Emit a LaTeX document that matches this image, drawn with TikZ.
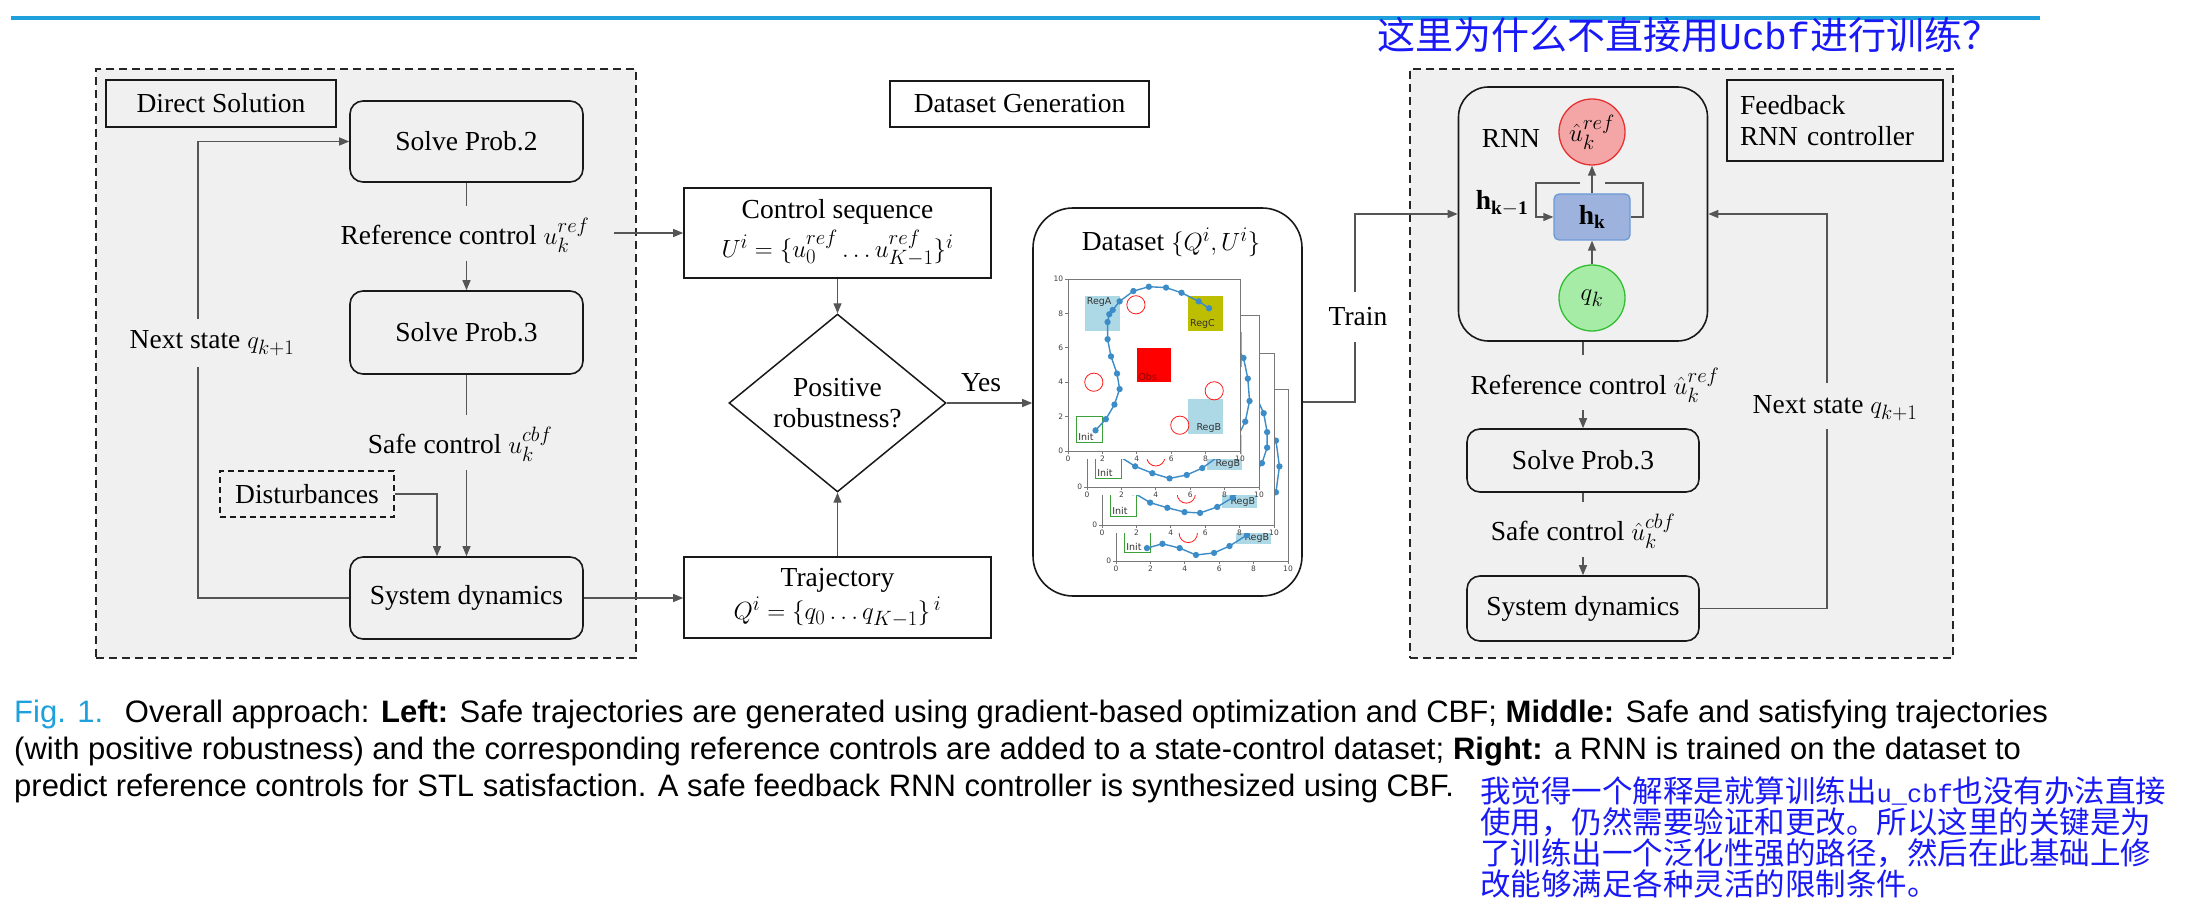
\documentclass[tikz,border=0pt]{standalone}
\usepackage{fontspec}
\setmainfont{Liberation Serif}
\newfontfamily\capfont{Liberation Sans}
\newfontfamily\cjkfont{Noto Sans CJK SC}
\newfontfamily\lmono{Liberation Mono}
\newfontfamily\pfont{DejaVu Sans}
\usetikzlibrary{arrows.meta,shapes.geometric}

\definecolor{panelgray}{RGB}{240,240,240}
\definecolor{linegray}{RGB}{85,85,85}
\definecolor{figblue}{RGB}{30,160,220}
\definecolor{noteblue}{RGB}{25,25,245}
\definecolor{ured}{RGB}{244,166,166}
\definecolor{uredd}{RGB}{230,50,50}
\definecolor{hkfill}{RGB}{157,179,222}
\definecolor{hkdraw}{RGB}{108,154,214}
\definecolor{qfill}{RGB}{166,235,166}
\definecolor{qdraw}{RGB}{50,190,50}
\definecolor{trajblue}{RGB}{60,140,200}
\definecolor{regblue}{RGB}{173,216,230}
\definecolor{regolive}{RGB}{190,190,0}
\definecolor{initgreen}{RGB}{60,160,60}
\definecolor{axgray}{RGB}{120,120,120}

\newcommand{\diagfont}{\fontsize{27.5}{31}\selectfont}
\newcommand{\tickfont}{\pfont\fontsize{7.5}{8}\selectfont}

\tikzset{
  box/.style={draw=black!90, line width=1.6pt, rounded corners=13pt, fill=panelgray, align=center, font=\diagfont, inner sep=0pt},
  plainbox/.style={draw=black!90, line width=1.6pt, fill=white, align=center, font=\diagfont, inner sep=0pt},
  lbl/.style={font=\diagfont, inner sep=0pt},
  conn/.style={draw=linegray, line width=1.3pt},
  arr/.style={conn, -{Triangle[length=10pt,width=8pt]}},
  panel/.style={draw=black!85, line width=1.5pt, dash pattern=on 8pt off 5pt, fill=panelgray, inner sep=0pt},
  ptext/.style={font=\pfont\fontsize{9.5}{10}\selectfont, inner sep=1.5pt, text=black!80},
  tick/.style={font=\tickfont, inner sep=1pt, text=black!75},
  captext/.style={font=\capfont\fontsize{31}{36}\selectfont, anchor=base west, inner sep=0pt},
  notetext/.style={font=\cjkfont\fontsize{30.5}{32}\selectfont, anchor=west, inner sep=0pt, text=noteblue}
}

% #1,#2 origin (px), #3 circles, #4 trajectory, #5 id
\newcommand{\dsplot}[5]{%
\begin{scope}[shift={(#1,#2)},x=17.2pt,y=17.2pt]
  \fill[white] (-1.2,-0.45) rectangle (10.05,10.05);
  \fill[regblue] (1,7) rectangle (3,9);
  \fill[regolive] (7,7) rectangle (9,9);
  \fill[red] (4,4) rectangle (6,6);
  \fill[regblue] (7,1) rectangle (9,3);
  \draw[initgreen, line width=0.9pt] (0.5,0.5) rectangle (2,2);
  \node[ptext, anchor=north west] (ra#5) at (1,9) {RegA};
  \node[ptext, anchor=south west] (rc#5) at (7,7) {RegC};
  \node[ptext, anchor=south west, text=red!55!black] (ob#5) at (4,4) {Obs};
  \node[ptext, anchor=south east] (rb#5) at (9,1) {RegB};
  \node[ptext, anchor=south west] (in#5) at (0.5,0.5) {Init};
  \foreach \cx/\cy in {#3} {\draw[red!90, line width=0.8pt] (\cx,\cy) circle (0.53);}
  \draw[trajblue, line width=1.4pt, mark=*, mark size=2.4pt] plot coordinates {#4};
  \draw[axgray, line width=0.8pt] (0,0) rectangle (10,10);
  \foreach \tv in {0,2,4,6,8,10} {
    \draw[axgray, line width=0.7pt] (\tv,0) -- (\tv,-0.2) node[tick, below] (tx#5-\tv) {\tv};
    \draw[axgray, line width=0.7pt] (0,\tv) -- (-0.2,\tv) node[tick, left] (ty#5-\tv) {\tv};
  }
\end{scope}}

\begin{document}
\begin{tikzpicture}[x=1pt,y=-1pt]
\path[use as bounding box] (0,0) rectangle (2192,909);

% top rule and note
\draw[figblue, line width=4pt] (11,18) -- (2040,18);
\node[font=\cjkfont\fontsize{38}{40}\selectfont, anchor=west, inner sep=0pt, text=noteblue] (topnote) at (1377,35)
  {这里为什么不直接用{\lmono\fontsize{38}{40}\selectfont Ucbf}进行训练？};

% ---------------- left panel ----------------
\node[panel, minimum width=540pt, minimum height=589pt] (panelL) at (366,363.5) {};
\node[plainbox, fill=panelgray, minimum width=230pt, minimum height=47pt] (dsol) at (221,103.5) {Direct Solution};
\node[box, minimum width=233pt, minimum height=81pt] (sp2L) at (466.5,141.5) {Solve Prob.2};
\node[box, minimum width=233pt, minimum height=83pt] (sp3L) at (466.5,332.5) {Solve Prob.3};
\node[box, minimum width=233pt, minimum height=82pt] (sysL) at (466.5,598) {System dynamics};
\node[lbl] (refL) at (465,235) {Reference control $u_k^{ref}$};
\node[lbl] (safeL) at (460,444) {Safe control $u_k^{cbf}$};
\node[plainbox, fill=panelgray, line width=1.4pt, dash pattern=on 6pt off 4pt, minimum width=174pt, minimum height=46pt] (dist) at (307,494) {Disturbances};
\node[lbl] (nextL) at (212,343) {Next state $q_{k+1}$};

\coordinate (refLt) at (466.5,206);
\coordinate (refLb) at (466.5,261);
\coordinate (refLe) at (614,233);
\coordinate (safeLt) at (466.5,415);
\coordinate (safeLb) at (466.5,470);
\coordinate (nextLt) at (198,319);
\coordinate (nextLb) at (198,367);
\coordinate (distc) at (437,494);

\draw[conn] (sp2L) -- (refLt);
\draw[arr] (refLb) -- (sp3L);
\draw[conn] (sp3L) -- (safeLt);
\draw[arr] (safeLb) -- (sysL);
\draw[arr] (dist.east) -| (sysL.north -| distc);
\draw[conn] (sysL.west) -| (nextLb);
\draw[arr] (nextLt) |- (sp2L.west);

% ---------------- middle ----------------
\node[plainbox, minimum width=259pt, minimum height=46pt] (dgen) at (1019.5,104) {Dataset Generation};
\node[plainbox, minimum width=307pt, minimum height=90pt] (ctrl) at (837.5,233) {Control sequence\\[5pt] $U^i=\{u_0^{ref}\ldots u_{K-1}^{ref}\}^i$};
\node[draw=black!90, line width=1.5pt, diamond, fill=white, minimum width=217pt, minimum height=153pt, inner sep=0pt, align=center, font=\diagfont] (dia) at (837.5,403) {Positive\\robustness?};
\node[plainbox, minimum width=307pt, minimum height=81pt] (traj) at (837.5,597.5) {Trajectory\\[2pt] $Q^i=\{q_0\ldots q_{K-1}\}^{\,i}$};
\node[lbl] (yes) at (981,383) {Yes};

\draw[arr] (refLe) -- (refLe -| ctrl.west);
\draw[arr] (sysL.east) -- (sysL.east -| traj.west);
\draw[arr] (ctrl) -- (dia);
\draw[arr] (traj) -- (dia);

% dataset box with plots
\node[plainbox, rounded corners=40pt, minimum width=269pt, minimum height=388pt] (ds) at (1167.5,402) {};
\node[lbl] (dstitle) at (1171,242) {Dataset $\{Q^i,U^i\}$};
\dsplot{1116}{561}{4.2/1.6, 1.5/5.0, 7.8/5.5, 4.5/8.6}{(1.8,0.75) (2.7,1.0) (3.7,0.75) (4.65,0.35) (5.7,0.47) (6.6,0.87) (7.6,1.5) (8.6,2.6) (9.3,4.0) (9.5,5.5) (9.3,7.0) (8.5,8.3)}{d}
\dsplot{1102}{525}{4.9/1.8, 1.5/5.0, 7.8/5.5, 4.5/8.6}{(1.8,1.9) (2.8,1.3) (3.8,1.0) (4.8,0.75) (5.7,0.7) (6.7,1.05) (7.6,1.6) (8.6,2.5) (9.3,3.6) (9.6,4.5) (9.6,5.4) (9.4,6.5) (8.9,7.6) (8.3,8.2)}{c}
\dsplot{1087}{487}{4.0/1.75, 1.5/5.0, 7.8/5.5, 4.5/8.6}{(1.7,1.9) (2.8,1.2) (3.8,0.8) (4.8,0.5) (5.8,0.7) (6.7,1.1) (7.6,1.75) (8.6,2.6) (9.2,3.8) (9.45,5.0) (9.35,6.3) (9.1,7.5) (8.6,8.3) (8.2,8.5)}{b}
\dsplot{1068}{451}{3.95/8.5, 1.5/4.0, 8.5/3.5, 6.5/1.5}{(1.6,1.2) (2.2,1.85) (2.7,2.7) (3.0,3.6) (2.85,4.5) (2.5,5.5) (2.3,6.5) (2.3,7.5) (2.4,7.95) (2.6,8.2) (3.0,8.7) (3.8,9.3) (4.7,9.55) (5.7,9.5) (6.6,9.2) (7.6,8.7) (8.2,8.3)}{a}

\draw[arr] (dia.east) -- (dia.east -| ds.west);

% ---------------- right panel ----------------
\node[panel, minimum width=543pt, minimum height=589pt] (panelR) at (1681.5,363.5) {};
\node[plainbox, fill=panelgray, minimum width=216pt, minimum height=81pt, text width=190pt, align=left] (fbk) at (1835,120.5) {Feedback\\RNN controller};
\node[box, rounded corners=30pt, minimum width=249pt, minimum height=254pt] (rnn) at (1583,214) {};
\node[lbl] (rnnl) at (1511,138) {RNN};
\node[circle, draw=uredd, fill=ured, line width=1.3pt, minimum size=66pt, inner sep=0pt, font=\diagfont] (uh) at (1592,132) {$\hat u_k^{ref}$};
\node[draw=hkdraw, fill=hkfill, rounded corners=5pt, line width=1.3pt, minimum width=76pt, minimum height=46pt, inner sep=0pt, font=\diagfont] (hk) at (1592,217) {$\mathbf{h_k}$};
\node[circle, draw=qdraw, fill=qfill, line width=1.3pt, minimum size=66pt, inner sep=0pt, font=\diagfont] (qk) at (1592,298) {$q_k$};
\node[lbl] (hkm) at (1502,203) {$\mathbf{h_{k-1}}$};

\coordinate (la) at (1643,183);
\coordinate (lb) at (1605,183);
\coordinate (lc) at (1580,183);
\coordinate (ld) at (1536,183);
\draw[conn] (hk.east) -| (la) -- (lb);
\draw[arr] (lc) -- (ld) |- (hk.west);
\draw[arr] (qk) -- (hk);
\draw[arr] (hk) -- (uh);

% train connector
\coordinate (trb) at (1355,342);
\coordinate (trt) at (1355,292);
\node[lbl] (train) at (1358,317) {Train};
\draw[conn] (ds.east) -| (trb);
\draw[arr] (trt) |- (rnn.west);

\node[box, minimum width=232pt, minimum height=63pt] (sp3R) at (1583,460.5) {Solve Prob.3};
\node[box, minimum width=232pt, minimum height=65pt] (sysR) at (1583,608.5) {System dynamics};
\node[lbl] (refR) at (1595,385) {Reference control $\hat u_k^{ref}$};
\node[lbl] (safeR) at (1583,531) {Safe control $\hat u_k^{cbf}$};
\node[lbl] (nextR) at (1835,408) {Next state $q_{k+1}$};

\coordinate (refRt) at (1583,355);
\coordinate (refRb) at (1583,410);
\coordinate (safeRt) at (1583,502);
\coordinate (safeRb) at (1583,557);
\coordinate (nsRt) at (1827,383);
\coordinate (nsRb) at (1827,429);

\draw[conn] (rnn) -- (refRt);
\draw[arr] (refRb) -- (sp3R);
\draw[conn] (sp3R) -- (safeRt);
\draw[arr] (safeRb) -- (sysR);
\draw[conn] (sysR.east) -| (nsRb);
\draw[arr] (nsRt) |- (rnn.east);

% ---------------- caption ----------------
\node[captext] (cap1) at (14,722) {\textcolor{figblue}{Fig. 1.}\hspace{0.7em}Overall approach: \textbf{Left:} Safe trajectories are generated using gradient-based optimization and CBF; \textbf{Middle:} Safe and satisfying trajectories};
\node[captext] (cap2) at (14,759) {(with positive robustness) and the corresponding reference controls are added to a state-control dataset; \textbf{Right:} a RNN is trained on the dataset to};
\node[captext] (cap3) at (14,796) {predict reference controls for STL satisfaction. A safe feedback RNN controller is synthesized using CBF.};

% ---------------- handwritten-style note ----------------
\node[notetext] (n1) at (1480,791) {我觉得一个解释是就算训练出{\lmono\fontsize{25.4}{32}\selectfont u\_cbf}也没有办法直接};
\node[notetext] (n2) at (1480,822) {使用，仍然需要验证和更改。所以这里的关键是为};
\node[notetext] (n3) at (1480,853) {了训练出一个泛化性强的路径，然后在此基础上修};
\node[notetext] (n4) at (1480,884) {改能够满足各种灵活的限制条件。};
\end{tikzpicture}
\end{document}
